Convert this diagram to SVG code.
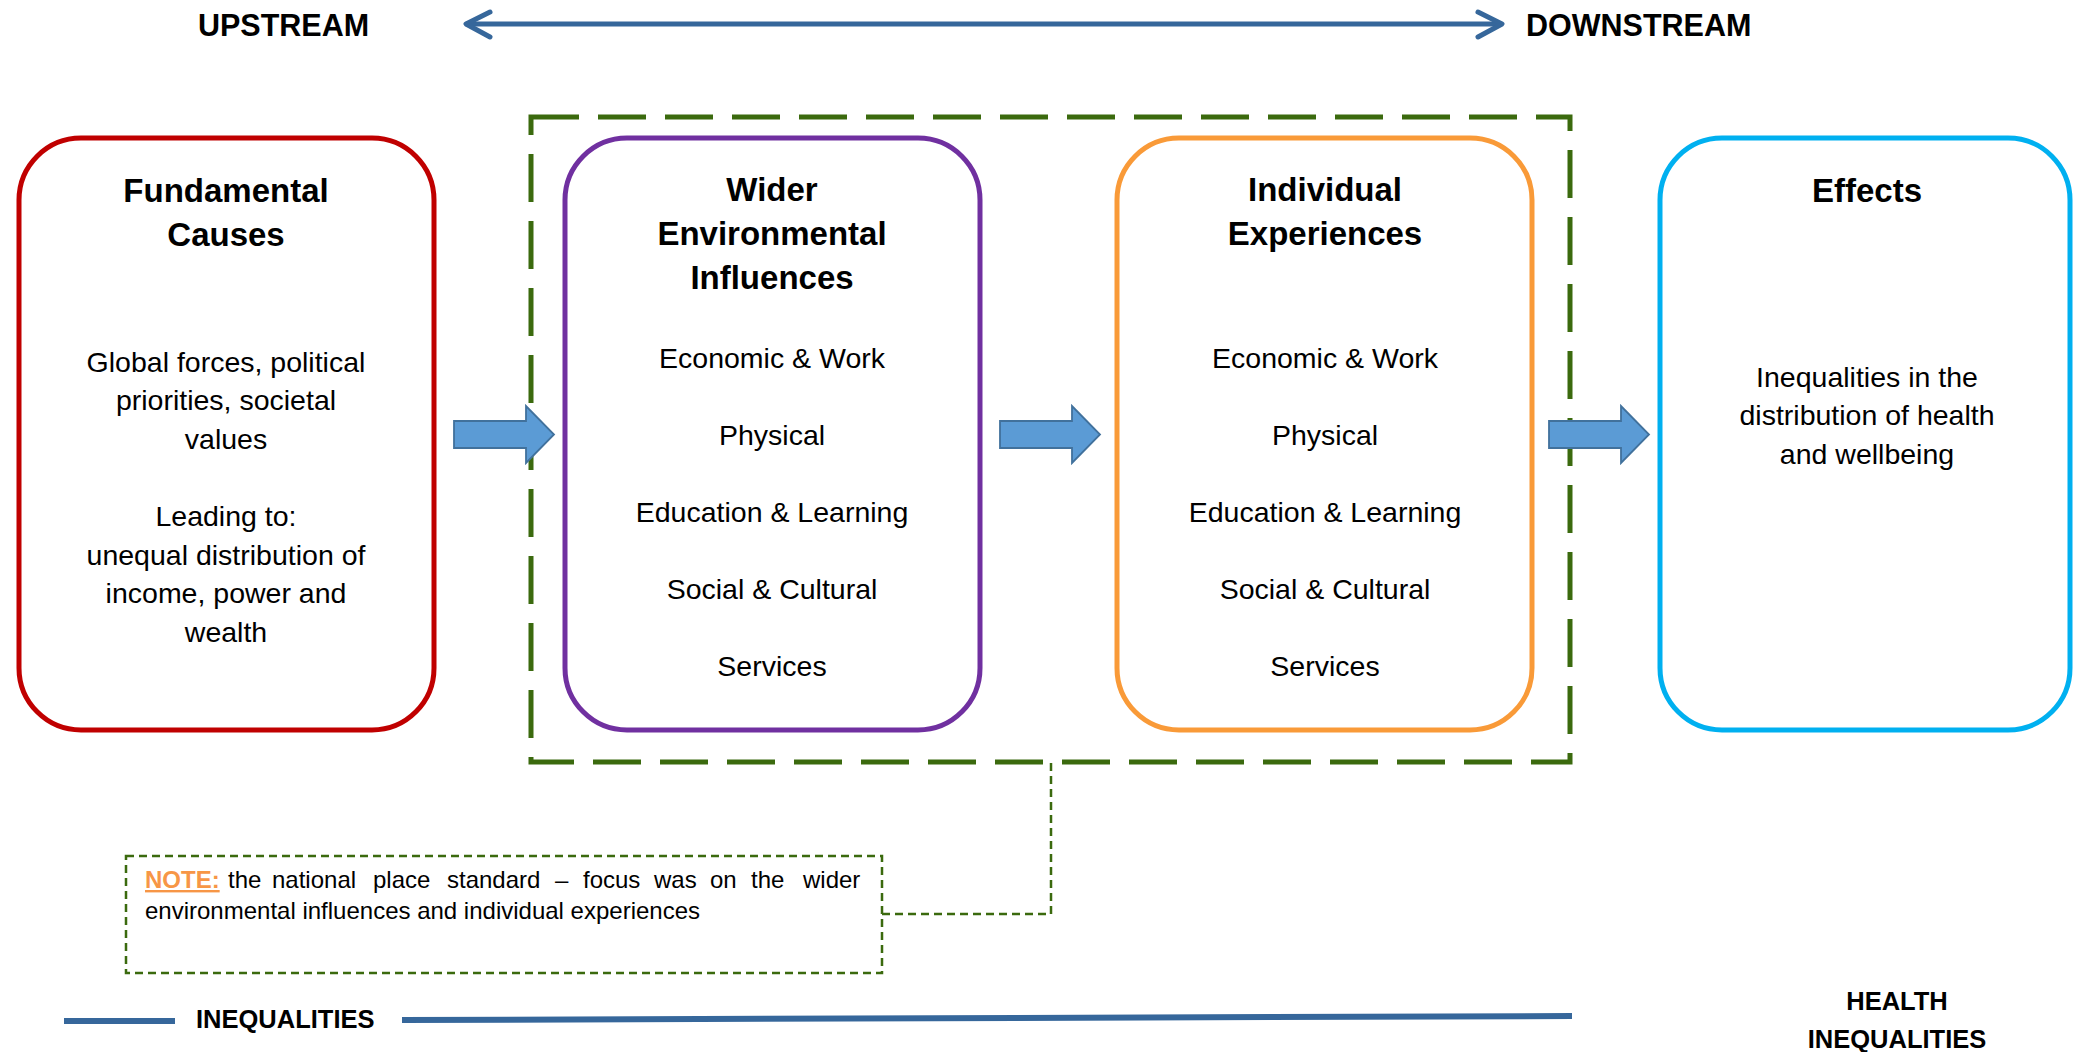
<svg xmlns="http://www.w3.org/2000/svg" xmlns:xlink="http://www.w3.org/1999/xlink" width="2074" height="1052" viewBox="0 0 2074 1052">
<style>
  text { font-family: "Liberation Sans", Arial, sans-serif; fill: #000; }
  .title { font-size: 33px; font-weight: bold; text-anchor: middle; }
  .body { font-size: 28.5px; text-anchor: middle; }
  .label { font-size: 30.5px; font-weight: bold; }
  .ineq { font-size: 25.5px; font-weight: bold; }
  .note { font-size: 24px; }
  .box { fill: #fff; stroke-width: 5; }
  .blk { fill: #5B9BD5; stroke: #41719C; stroke-width: 1.8; stroke-linejoin: miter; }
  .grp { fill: none; stroke: #3B6A0E; stroke-width: 5; stroke-dasharray: 48 19; }
  .thin { fill: none; stroke: #3B6A0E; stroke-width: 2.5; stroke-dasharray: 8 5; }
  .flow { fill: none; stroke: #36679B; stroke-width: 5; stroke-linecap: round; stroke-linejoin: round; }
  .bar { stroke: #36679B; stroke-width: 6; }
</style>
<defs>
  <path id="blockArrow" d="M0,-13.5 L72,-13.5 L72,-28.5 L100,0 L72,28.5 L72,13.5 L0,13.5 Z"/>
</defs>
<rect width="2074" height="1052" fill="#fff"/>

<g id="top-labels">
  <text class="label" x="198" y="36">UPSTREAM</text>
  <text class="label" x="1526" y="36">DOWNSTREAM</text>
</g>

<g id="focus-group">
  <rect class="grp" x="531" y="117" width="1039" height="645"/>
</g>

<g id="fundamental-causes">
  <rect class="box" stroke="#C00000" x="19" y="138" width="415" height="592" rx="62" ry="62"/>
  <text class="title" x="226" y="202">Fundamental</text>
  <text class="title" x="226" y="246">Causes</text>
  <text class="body" x="226" y="372">Global forces, political</text>
  <text class="body" x="226" y="410">priorities, societal</text>
  <text class="body" x="226" y="449">values</text>
  <text class="body" x="226" y="526">Leading to:</text>
  <text class="body" x="226" y="565">unequal distribution of</text>
  <text class="body" x="226" y="603">income, power and</text>
  <text class="body" x="226" y="642">wealth</text>
</g>

<g id="wider-environmental-influences">
  <rect class="box" stroke="#7030A0" x="565" y="138" width="415" height="592" rx="62" ry="62"/>
  <text class="title" x="772" y="201">Wider</text>
  <text class="title" x="772" y="245">Environmental</text>
  <text class="title" x="772" y="289">Influences</text>
  <text class="body" x="772" y="368">Economic &amp; Work</text>
  <text class="body" x="772" y="445">Physical</text>
  <text class="body" x="772" y="522">Education &amp; Learning</text>
  <text class="body" x="772" y="599">Social &amp; Cultural</text>
  <text class="body" x="772" y="676">Services</text>
</g>

<g id="individual-experiences">
  <rect class="box" stroke="#F99A38" x="1117" y="138" width="415" height="592" rx="62" ry="62"/>
  <text class="title" x="1325" y="201">Individual</text>
  <text class="title" x="1325" y="245">Experiences</text>
  <text class="body" x="1325" y="368">Economic &amp; Work</text>
  <text class="body" x="1325" y="445">Physical</text>
  <text class="body" x="1325" y="522">Education &amp; Learning</text>
  <text class="body" x="1325" y="599">Social &amp; Cultural</text>
  <text class="body" x="1325" y="676">Services</text>
</g>

<g id="effects">
  <rect class="box" stroke="#00B0F0" x="1660" y="138" width="410" height="592" rx="62" ry="62"/>
  <text class="title" x="1867" y="202">Effects</text>
  <text class="body" x="1867" y="387">Inequalities in the</text>
  <text class="body" x="1867" y="425">distribution of health</text>
  <text class="body" x="1867" y="464">and wellbeing</text>
</g>

<g id="note">
  <rect class="thin" x="126" y="856" width="756" height="117"/>
  <text class="note" y="888"><tspan x="145" font-weight="bold" style="fill:#F79646;text-decoration:underline">NOTE:</tspan><tspan x="228">the</tspan><tspan x="272">national</tspan><tspan x="373">place</tspan><tspan x="447">standard</tspan><tspan x="555">–</tspan><tspan x="583">focus</tspan><tspan x="654">was</tspan><tspan x="710">on</tspan><tspan x="751">the</tspan><tspan x="803">wider</tspan></text>
  <text class="note" x="145" y="919">environmental influences and individual experiences</text>
</g>

<g id="bottom-labels">
  <text class="ineq" x="196" y="1028">INEQUALITIES</text>
  <text class="ineq" x="1897" y="1010" text-anchor="middle">HEALTH</text>
  <text class="ineq" x="1897" y="1048" text-anchor="middle">INEQUALITIES</text>
</g>

<g id="connectors">
  <path class="flow" d="M467,24 L1500,24"/>
  <path class="flow" d="M490,12 L466,24 L490,37"/>
  <path class="flow" d="M1478,12 L1502,24 L1478,37"/>
  <use href="#blockArrow" xlink:href="#blockArrow" class="blk" x="454" y="434.5"/>
  <use href="#blockArrow" xlink:href="#blockArrow" class="blk" x="1000" y="434.5"/>
  <use href="#blockArrow" xlink:href="#blockArrow" class="blk" x="1549" y="434.5"/>
  <path class="thin" d="M882,914 L1051,914 L1051,762"/>
  <line class="bar" x1="64" y1="1021" x2="175" y2="1021"/>
  <line class="bar" x1="402" y1="1020" x2="1572" y2="1016"/>
</g>
</svg>
